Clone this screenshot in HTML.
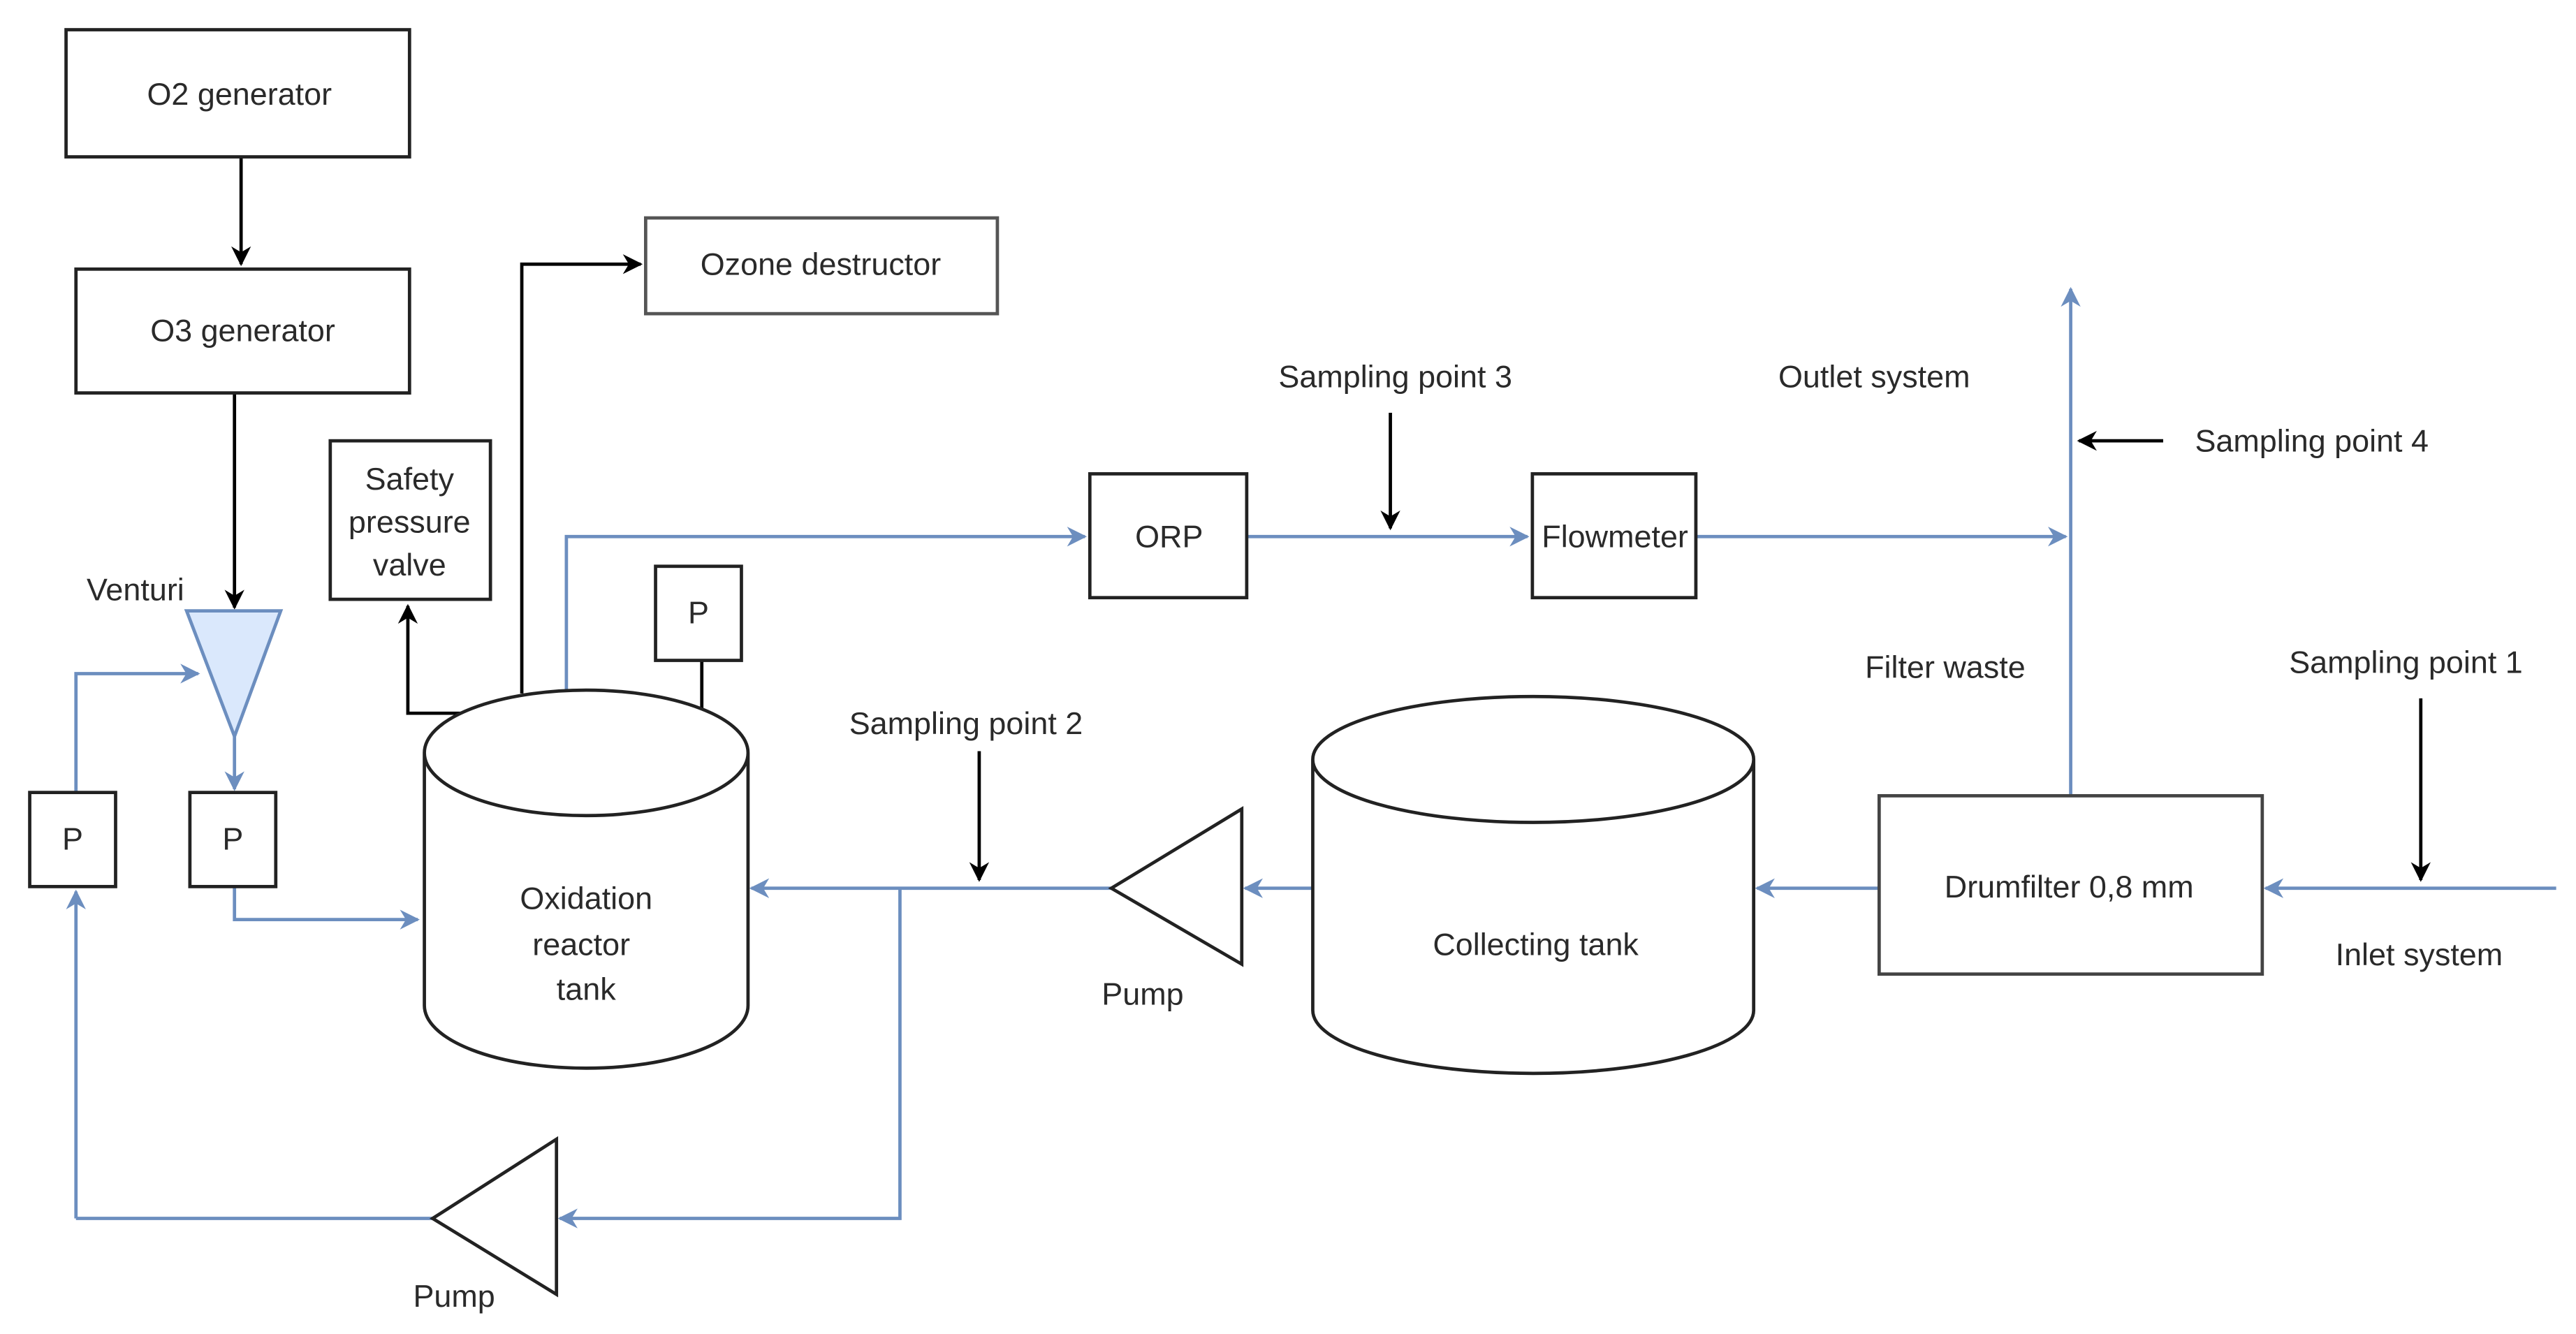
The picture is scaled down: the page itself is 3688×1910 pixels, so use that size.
<!DOCTYPE html>
<html><head><meta charset="utf-8"><style>html,body{margin:0;padding:0;background:#fff}svg{display:block}</style></head>
<body>
<svg width="3688" height="1910" viewBox="0 0 1560 808" preserveAspectRatio="none" xmlns="http://www.w3.org/2000/svg" font-family="Liberation Sans, sans-serif" font-size="19" fill="#2a2a2a">
<defs>
<marker id="bk" viewBox="0 0 10 10" refX="9" refY="5" markerWidth="6" markerHeight="6" orient="auto"><path d="M0,0 L10,5 L0,10 L3,5 z" fill="#000"/></marker>
<marker id="bl" viewBox="0 0 10 10" refX="9" refY="5" markerWidth="6" markerHeight="6" orient="auto"><path d="M0,0 L10,5 L0,10 L3,5 z" fill="#6c8ebf"/></marker>
</defs>
<g fill="none" stroke="#6c8ebf" stroke-width="2">
<path d="M46,480 V408 H120" marker-end="url(#bl)"/>
<path d="M142,446 V478" marker-end="url(#bl)"/>
<path d="M142,537 V557 H253" marker-end="url(#bl)"/>
<path d="M46,738 V540" marker-end="url(#bl)"/>
<path d="M262,738 H46"/>
<path d="M545,538 V738 H339" marker-end="url(#bl)"/>
<path d="M673,538 H455" marker-end="url(#bl)"/>
<path d="M795,538 H754" marker-end="url(#bl)"/>
<path d="M1138,538 H1064" marker-end="url(#bl)"/>
<path d="M1548,538 H1372" marker-end="url(#bl)"/>
<path d="M1254,482 V175" marker-end="url(#bl)"/>
<path d="M1027,325 H1251" marker-end="url(#bl)"/>
<path d="M755,325 H925" marker-end="url(#bl)"/>
<path d="M343,418 V325 H657" marker-end="url(#bl)"/>
</g>
<g fill="none" stroke="#000" stroke-width="2">
<path d="M146,95 V160" marker-end="url(#bk)"/>
<path d="M142,238 V368" marker-end="url(#bk)"/>
<path d="M593,455 V533" marker-end="url(#bk)"/>
<path d="M1466,423 V533" marker-end="url(#bk)"/>
<path d="M1310,267 H1259" marker-end="url(#bk)"/>
<path d="M842,250 V320" marker-end="url(#bk)"/>
<path d="M425,400 V432"/>
<path d="M316,420 V160 H388" marker-end="url(#bk)"/>
<path d="M290,432 H247 V367" marker-end="url(#bk)"/>
</g>
<g fill="#fff" stroke="#222" stroke-width="2">
<rect x="40" y="18" width="208" height="77"/>
<rect x="46" y="163" width="202" height="75"/>
<rect x="391" y="132" width="213" height="58" stroke="#555"/>
<rect x="200" y="267" width="97" height="96"/>
<rect x="397" y="343" width="52" height="57"/>
<rect x="18" y="480" width="52" height="57"/>
<rect x="115" y="480" width="52" height="57"/>
<rect x="660" y="287" width="95" height="75"/>
<rect x="928" y="287" width="99" height="75"/>
<rect x="1138" y="482" width="232" height="108" stroke="#444"/>
<path d="M257,456 V609 A98,38 0 0 0 453,609 V456 A98,38 0 0 0 257,456 A98,38 0 0 0 453,456"/>
<path d="M795,460 V612 A133,38 0 0 0 1062,612 V460 A133,38 0 0 0 795,460 A133,38 0 0 0 1062,460"/>
<path d="M673,538 L752,490 V584 Z"/>
<path d="M262,738 L337,690 V784 Z"/>
</g>
<path d="M113,370 H170 L142,446 Z" fill="#dae8fc" stroke="#6c8ebf" stroke-width="2"/>
<g text-anchor="middle" dominant-baseline="central">
<text x="145" y="57">O2 generator</text>
<text x="147" y="200">O3 generator</text>
<text x="497" y="160">Ozone destructor</text>
<text x="248" y="290">Safety</text>
<text x="248" y="316">pressure</text>
<text x="248" y="342">valve</text>
<text x="423" y="371">P</text>
<text x="44" y="508">P</text>
<text x="141" y="508">P</text>
<text x="82" y="357">Venturi</text>
<text x="355" y="544">Oxidation</text>
<text x="352" y="572">reactor</text>
<text x="355" y="599">tank</text>
<text x="708" y="325">ORP</text>
<text x="978" y="325">Flowmeter</text>
<text x="845" y="228">Sampling point 3</text>
<text x="1135" y="228">Outlet system</text>
<text x="1400" y="267">Sampling point 4</text>
<text x="1178" y="404">Filter waste</text>
<text x="1457" y="401">Sampling point 1</text>
<text x="1465" y="578">Inlet system</text>
<text x="1253" y="537">Drumfilter 0,8 mm</text>
<text x="930" y="572">Collecting tank</text>
<text x="585" y="438">Sampling point 2</text>
<text x="692" y="602">Pump</text>
<text x="275" y="785">Pump</text>
</g>
</svg>
</body></html>
